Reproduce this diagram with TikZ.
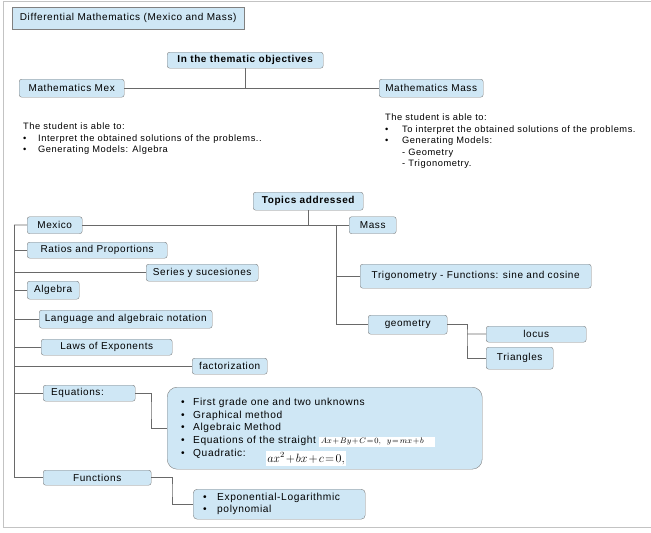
\documentclass[tikz,border=0pt]{standalone}
\usepackage[no-math]{fontspec}
\setmainfont{Liberation Sans}[LetterSpace=6]
\definecolor{boxblue}{RGB}{207,231,245}
\definecolor{boxedge}{RGB}{128,128,128}
\definecolor{linkgray}{RGB}{105,105,105}
\definecolor{framegray}{RGB}{195,195,195}
\setlength{\fboxsep}{1.5pt}
\newcommand{\bul}[1][14pt]{\makebox[#1][l]{\textbullet}}
\newcommand{\tightmath}{\medmuskip=1.5mu\thickmuskip=2mu}
\tikzset{
    topic/.style={shape=rectangle, rounded corners=2.5pt, fill=boxblue, draw=boxedge, inner sep=0pt, anchor=north west, font=\fontsize{10}{12}\selectfont},
    heading/.style={topic, font=\bfseries\fontsize{10}{12}\selectfont},
    goals/.style={inner sep=0pt, anchor=north west, align=left, font=\fontsize{9.3}{11.5}\selectfont},
    link/.style={draw=linkgray, line width=0.8pt},
}
\begin{document}
\begin{tikzpicture}[x=1pt, y=-1pt]

            \useasboundingbox (0,0) rectangle (651,533);
            \draw[framegray, line width=0.8pt] (651,1) -- (3.5,1) -- (3.5,527) -- (651,527);

            \node[topic, sharp corners, minimum width=232, minimum height=22] (Title) at (12,7) {Differential Mathematics (Mexico and Mass)};

            \node[heading, minimum width=156, minimum height=16] (ThemObj) at (167,52) {In the thematic objectives};
            \node[topic, minimum width=105, minimum height=18] (MatMex) at (19,79) {Mathematics Mex};
            \node[topic, minimum width=104, minimum height=18] (MatMass) at (379,79) {Mathematics Mass};

            \node[goals] (MexGoals) at (23,123) {The student is able to:\\
                \bul[15pt]Interpret the obtained solutions of the problems..\\
                \bul[15pt]Generating Models: Algebra};
            \node[goals] (MassGoals) at (385,114) {The student is able to:\\
                \bul[17pt]To interpret the obtained solutions of the problems.\\
                \bul[17pt]Generating Models:\\
                \hspace*{17pt}- Geometry\\
                \hspace*{17pt}- Trigonometry.};

            \node[heading, minimum width=110, minimum height=18] (Topics) at (253,192) {Topics addressed};
            \node[topic, minimum width=55, minimum height=17] (Mexico) at (27,216.5) {Mexico};
            \node[topic, minimum width=47, minimum height=17] (Mass) at (349,216.5) {Mass};

            \node[topic, minimum width=140, minimum height=16] (Ratios) at (27,242) {Ratios and Proportions};
            \node[topic, minimum width=112, minimum height=17] (Series) at (146,264) {Series y sucesiones};
            \node[topic, minimum width=52, minimum height=18] (Algebra) at (27,281) {Algebra};
            \node[topic, minimum width=173, minimum height=18] (Language) at (39,310) {Language and algebraic notation};
            \node[topic, minimum width=131, minimum height=16] (Laws) at (41,339) {Laws of Exponents};
            \node[topic, minimum width=75, minimum height=16] (Factor) at (192,358) {factorization};
            \node[topic, minimum width=92, minimum height=16, text width=76, align=left] (Equations) at (43,385) {Equations:};
            \node[topic, minimum width=108, minimum height=15] (Functions) at (43,470) {Functions};

            \node[topic, rounded corners=10pt, minimum width=315, minimum height=82, text width=287, align=left, font=\fontsize{10.2}{12.7}\selectfont] (EqList) at (167,387) {\bul[12pt]First grade one and two unknowns\\
                \bul[12pt]Graphical method\\
                \bul[12pt]Algebraic Method\\
                \bul[12pt]Equations of the straight \colorbox{white}{\fontsize{8}{9}\selectfont$\tightmath Ax+By+C=0,\;\ y=mx+b$\hspace{10pt}}\\
                \bul[12pt]Quadratic:\hspace{20pt}\raisebox{-6pt}[0pt][0pt]{\colorbox{white}{\fontsize{12}{14}\selectfont$\tightmath ax^2+bx+c=0,$}}};
            \node[topic, rounded corners=4pt, minimum width=172, minimum height=30, text width=152, align=left, font=\fontsize{10.2}{12}\selectfont] (FunList) at (193,489) {\bul Exponential-Logarithmic\\
                \bul polynomial};

            \node[topic, minimum width=231, minimum height=24] (Trig) at (360,264) {Trigonometry - Functions: sine and cosine};
            \node[topic, minimum width=79, minimum height=19] (Geometry) at (368,315) {geometry};
            \node[topic, minimum width=100, minimum height=16] (Locus) at (486,326) {locus};
            \node[topic, minimum width=67, minimum height=22] (Triangles) at (486,347) {Triangles};

            \coordinate (MassTrunk) at (336,225);
            \coordinate (GeoFork) at (467,334);
            \coordinate (LeftTrunk) at (14,225);
            \coordinate (EqBend) at (151,410);
            \coordinate (FunBend) at (172,490);

            \draw[link] (ThemObj) -- (ThemObj |- MatMex);
            \draw[link] (MatMex) -- (MatMass);

            \draw[link] (Topics) -- (Topics |- Mexico);
            \draw[link] (Mexico) -- (Mass);
            \draw[link] (MassTrunk) |- (Geometry);
            \draw[link] (MassTrunk |- Trig) -- (Trig);
            \draw[link] (Geometry) -| (GeoFork) |- (Triangles);
            \draw[link] (GeoFork) -- (Locus);

            \draw[link] (LeftTrunk) -- (Mexico);
            \draw[link] (LeftTrunk) |- (Functions);
            \draw[link] (LeftTrunk |- Ratios) -- (Ratios);
            \draw[link] (LeftTrunk |- Series) -- (Series);
            \draw[link] (LeftTrunk |- Algebra) -- (Algebra);
            \draw[link] (LeftTrunk |- Language) -- (Language);
            \draw[link] (LeftTrunk |- Laws) -- (Laws);
            \draw[link] (LeftTrunk |- Factor) -- (Factor);
            \draw[link] (LeftTrunk |- Equations) -- (Equations);

            \draw[link] (Equations) -| (EqBend) |- (EqList);
            \draw[link] (Functions) -| (FunBend) |- (FunList);

\end{tikzpicture}
\end{document}
